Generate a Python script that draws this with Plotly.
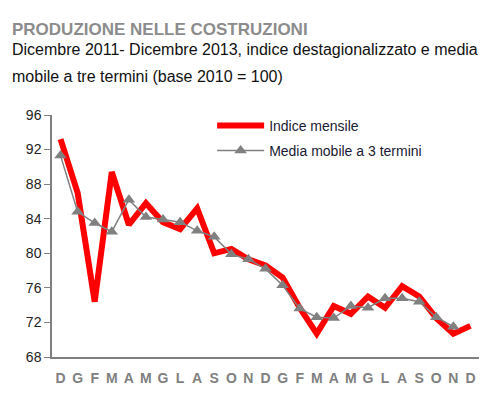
import plotly.graph_objects as go

# Dicembre 2011 - Dicembre 2013
mesi = ["D", "G", "F", "M", "A", "M", "G", "L", "A", "S", "O", "N",
        "D", "G", "F", "M", "A", "M", "G", "L", "A", "S", "O", "N", "D"]

indice_mensile = [93.2, 87.0, 74.4, 89.4, 83.3, 85.8, 83.6, 82.8, 85.2, 80.0,
                  80.5, 79.3, 78.6, 77.2, 73.7, 70.7, 73.9, 73.0, 75.0, 73.7,
                  76.2, 75.0, 72.5, 70.7, 71.6]

media_mobile = [91.3, 84.8, 83.5, 82.5, 86.2, 84.2, 83.9, 83.6, 82.6, 81.9,
                79.9, 79.3, 78.2, 76.3, 73.6, 72.6, 72.5, 73.9, 73.7, 74.8,
                74.8, 74.4, 72.6, 71.5]

y_ticks = [68, 72, 76, 80, 84, 88, 92, 96]

FONT = "Liberation Sans, Arial, sans-serif"

fig = go.Figure()

fig.add_trace(go.Scatter(
    x=list(range(len(indice_mensile))),
    y=indice_mensile,
    mode="lines",
    name="Indice mensile",
    line=dict(color="#ff0000", width=6),
    legend="legend",
))

fig.add_trace(go.Scatter(
    x=list(range(len(media_mobile))),
    y=media_mobile,
    mode="lines+markers",
    name="Media mobile a 3 termini",
    line=dict(color="#808080", width=1.5),
    marker=dict(symbol="triangle-up", size=11, color="#808080"),
    legend="legend2",
))

# the page body adds an 8px margin, so the figure is sized to fit inside it
fig.update_layout(
    width=492,
    height=403,
    margin=dict(l=44, r=21, t=107, b=54),
    paper_bgcolor="white",
    plot_bgcolor="white",
    font=dict(family=FONT, color="#222222"),
    xaxis=dict(
        range=[-0.5, 24.5],
        tickmode="array",
        tickvals=list(range(len(mesi))),
        ticktext=[f"<b>{m}</b>" for m in mesi],
        tickfont=dict(size=14, color="#808080"),
        ticks="outside",
        ticklen=7,
        tickcolor="rgba(0,0,0,0)",
        showgrid=False,
        zeroline=False,
        showline=True,
        linecolor="#808080",
        linewidth=1.5,
    ),
    yaxis=dict(
        range=[68, 96],
        tickvals=y_ticks,
        tickfont=dict(size=14, color="#222222"),
        ticks="outside",
        ticklen=6,
        tickcolor="#808080",
        showgrid=False,
        zeroline=False,
        showline=True,
        linecolor="#808080",
        linewidth=1.5,
    ),
    legend=dict(
        x=0.375, y=0.955, xanchor="left", yanchor="middle",
        font=dict(size=14, color="#1a1a33"),
        itemwidth=47, bgcolor="rgba(0,0,0,0)",
    ),
    legend2=dict(
        x=0.375, y=0.852, xanchor="left", yanchor="middle",
        font=dict(size=14, color="#1a1a33"),
        itemwidth=47, bgcolor="rgba(0,0,0,0)",
    ),
    showlegend=True,
)

fig.add_annotation(
    text="<b>PRODUZIONE NELLE COSTRUZIONI</b>",
    xref="paper", yref="paper", x=-0.098, y=1.355,
    xanchor="left", yanchor="middle", showarrow=False,
    font=dict(size=17, color="#8c8c8c"),
)
fig.add_annotation(
    text="Dicembre 2011- Dicembre 2013, indice destagionalizzato e media",
    xref="paper", yref="paper", x=-0.098, y=1.27,
    xanchor="left", yanchor="middle", showarrow=False,
    font=dict(size=16, color="#111111"),
)
fig.add_annotation(
    text="mobile a tre termini (base 2010 = 100)",
    xref="paper", yref="paper", x=-0.098, y=1.161,
    xanchor="left", yanchor="middle", showarrow=False,
    font=dict(size=16, color="#111111"),
)

fig.write_html("out.html")
